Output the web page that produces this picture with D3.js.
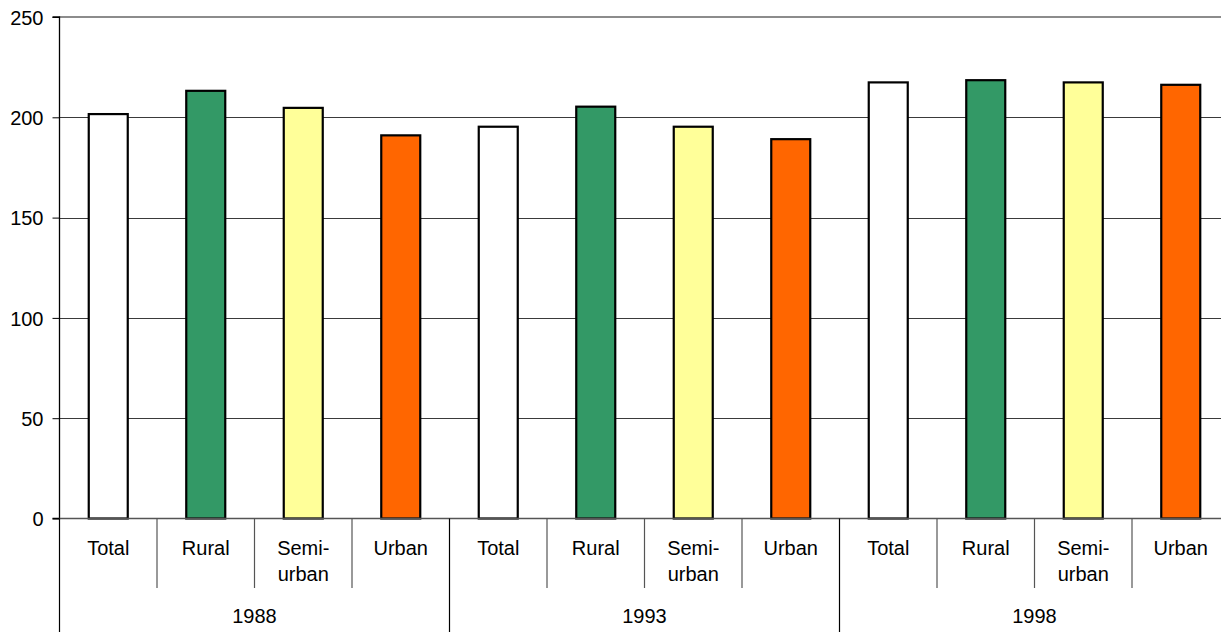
<!DOCTYPE html>
<html><head><meta charset="utf-8">
<script src="https://cdn.jsdelivr.net/npm/d3@7"></script>
<style>
html,body{margin:0;padding:0;background:#fff;overflow:hidden}
text{font-family:"Liberation Sans",Arial,sans-serif;font-size:20px;fill:#000}
</style></head>
<body>
<svg id="c" width="1221" height="632"></svg>
<script>
const years = ["1988", "1993", "1998"];
const areas = ["Total", "Rural", "Semi-urban", "Urban"];
const areaLabels = [["Total"], ["Rural"], ["Semi-", "urban"], ["Urban"]];
const values1988 = [201.6, 213.2, 204.7, 191.0];
const values1993 = [195.3, 205.3, 195.3, 189.1];
const values1998 = [217.4, 218.5, 217.4, 216.2];
const yTicks = [0, 50, 100, 150, 200, 250];
const colors = ["#FFFFFF", "#339966", "#FFFF99", "#FF6600"];

const seriesByYear = [values1988, values1993, values1998];
const rows = [];
years.forEach((y, yi) => areas.forEach((a, ai) => rows.push({year: y, area: a, ai, idx: yi * 4 + ai, value: seriesByYear[yi][ai]})));

const svg = d3.select("#c");
const x0 = 59.5, x1 = 1229.5, yTop = 17, yBot = 518.5;
const x = d3.scaleBand().domain(d3.range(rows.length)).range([x0, x1]).paddingInner(0.6).paddingOuter(0.3);
const y = d3.scaleLinear().domain([0, 250]).range([yBot, yTop]);
const step = x.step();

// gridlines
svg.append("g").selectAll("line").data(yTicks.filter(t => t > 0 && t < 250)).join("line")
  .attr("x1", x0).attr("x2", 1221).attr("y1", d => Math.round(y(d)) + 0.5).attr("y2", d => Math.round(y(d)) + 0.5)
  .attr("stroke", "#3a3a3a").attr("stroke-width", 1);
// top border
svg.append("line").attr("x1", x0).attr("x2", 1221).attr("y1", y(250)).attr("y2", y(250))
  .attr("stroke", "#8c8c8c").attr("stroke-width", 2);

// bars
svg.append("g").selectAll("rect").data(rows).join("rect")
  .attr("x", d => x(d.idx)).attr("width", x.bandwidth())
  .attr("y", d => y(d.value)).attr("height", d => y(0) - y(d.value))
  .attr("fill", d => colors[d.ai]).attr("stroke", "#000").attr("stroke-width", 2.2);

// y axis
const ya = d3.axisLeft(y).tickValues(yTicks).tickSize(7).tickPadding(9).tickFormat(d3.format("d"));
const gy = svg.append("g").attr("transform", `translate(${x0},0)`).call(ya);
gy.select(".domain").attr("stroke", "#000").attr("stroke-width", 1.3).attr("d", `M-7,${yTop}H0V${yBot}H-7`);
gy.selectAll(".tick line").attr("stroke", "#000");
gy.selectAll("text").attr("font-size", 20).attr("font-family", "Liberation Sans, Arial, sans-serif").attr("fill", "#000").attr("dy", "0.36em");

// x axis line
svg.append("line").attr("x1", x0).attr("x2", 1221).attr("y1", yBot).attr("y2", yBot).attr("stroke", "#555").attr("stroke-width", 1.5);

// category separators
const sepIdx = d3.range(rows.length + 1);
svg.append("g").selectAll("line").data(sepIdx).join("line")
  .attr("x1", i => x0 + i * step).attr("x2", i => x0 + i * step)
  .attr("y1", yBot).attr("y2", i => i % 4 === 0 ? 632 : 588)
  .attr("stroke", i => i % 4 === 0 ? "#000" : "#555").attr("stroke-width", 1.2);

// category labels
const cl = svg.append("g").selectAll("text").data(rows).join("text")
  .attr("text-anchor", "middle")
  .attr("x", d => x(d.idx) + x.bandwidth() / 2)
  .attr("y", 555);
cl.selectAll("tspan").data(d => areaLabels[d.ai].map(s => ({s, cx: x(d.idx) + x.bandwidth() / 2}))).join("tspan")
  .attr("x", t => t.cx).attr("dy", (t, i) => i === 0 ? 0 : 26).text(t => t.s);

// year labels
svg.append("g").selectAll("text").data(years).join("text")
  .attr("text-anchor", "middle")
  .attr("x", (d, i) => (x(i * 4) + x(i * 4 + 3) + x.bandwidth()) / 2)
  .attr("y", 623).text(d => d);
</script>
</body></html>
